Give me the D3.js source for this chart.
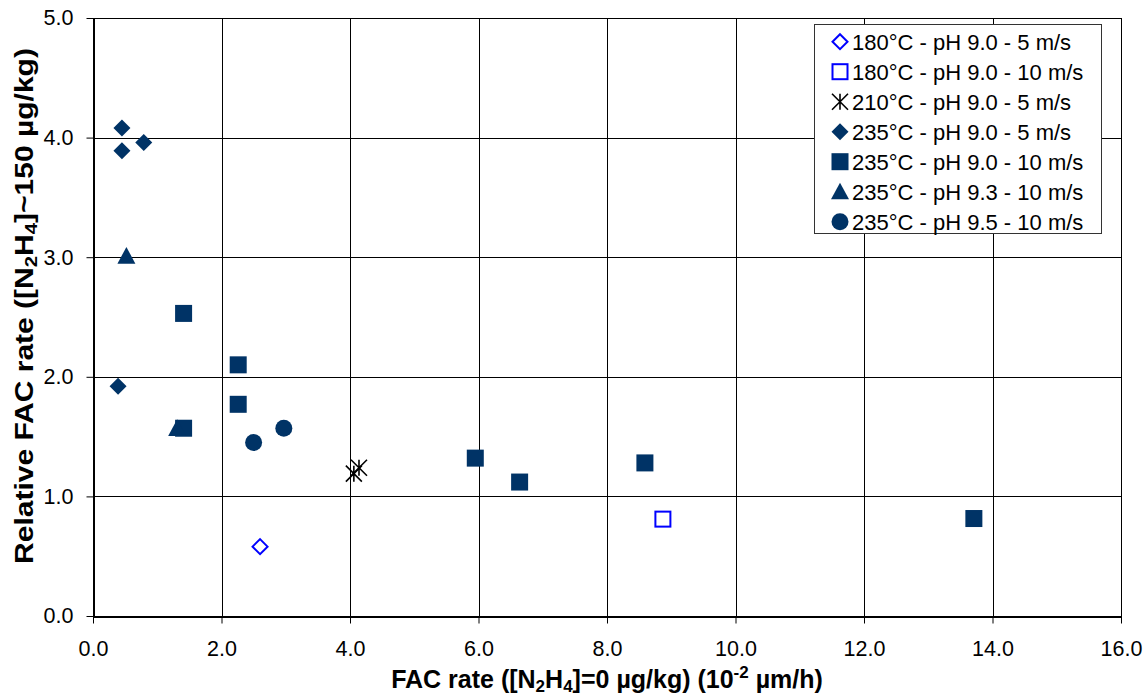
<!DOCTYPE html>
<html>
<head>
<meta charset="utf-8">
<script src="https://cdn.jsdelivr.net/npm/d3@7"></script>
<style>
  html, body { margin: 0; padding: 0; background: #fff; }
  svg { display: block; font-family: "Liberation Sans", Arial, sans-serif; }
</style>
</head>
<body>
<svg id="chart" width="1145" height="696"></svg>
<script>
// Series labels (legend order)
const seriesLabels = [
  "180°C - pH 9.0 - 5 m/s",
  "180°C - pH 9.0 - 10 m/s",
  "210°C - pH 9.0 - 5 m/s",
  "235°C - pH 9.0 - 5 m/s",
  "235°C - pH 9.0 - 10 m/s",
  "235°C - pH 9.3 - 10 m/s",
  "235°C - pH 9.5 - 10 m/s"
];

// FAC rate without hydrazine (x) and relative FAC rate (y) per series
const x180pH90v5 = [2.60];
const y180pH90v5 = [0.58];

const x180pH90v10 = [8.87];
const y180pH90v10 = [0.81];

const x210pH90v5 = [4.06, 4.14];
const y210pH90v5 = [1.19, 1.24];

const x235pH90v5 = [0.45, 0.45, 0.79, 0.39];
const y235pH90v5 = [4.08, 3.89, 3.96, 1.92];

const x235pH90v10 = [1.41, 2.26, 2.26, 1.41, 5.95, 6.64, 8.59, 13.71];
const y235pH90v10 = [2.53, 2.10, 1.77, 1.57, 1.32, 1.12, 1.28, 0.815];

const x235pH93v10 = [0.52, 1.31];
const y235pH93v10 = [3.01, 1.57];

const x235pH95v10 = [2.50, 2.97];
const y235pH95v10 = [1.45, 1.57];

// Axis ticks
const xTicks = [0, 2, 4, 6, 8, 10, 12, 14, 16];
const yTicks = [0, 1, 2, 3, 4, 5];

const navy = "#003366";
const blue = "#0000ff";

const series = [
  { label: seriesLabels[0], xs: x180pH90v5,  ys: y180pH90v5,  shape: "diamond", fill: "none", stroke: blue },
  { label: seriesLabels[1], xs: x180pH90v10, ys: y180pH90v10, shape: "square",  fill: "none", stroke: blue },
  { label: seriesLabels[2], xs: x210pH90v5,  ys: y210pH90v5,  shape: "star",    fill: "none", stroke: "#000" },
  { label: seriesLabels[3], xs: x235pH90v5,  ys: y235pH90v5,  shape: "diamond", fill: navy, stroke: "none" },
  { label: seriesLabels[4], xs: x235pH90v10, ys: y235pH90v10, shape: "square",  fill: navy, stroke: "none" },
  { label: seriesLabels[5], xs: x235pH93v10, ys: y235pH93v10, shape: "triangle",fill: navy, stroke: "none" },
  { label: seriesLabels[6], xs: x235pH95v10, ys: y235pH95v10, shape: "circle",  fill: navy, stroke: "none" }
];

const svg = d3.select("#chart");
const plot = { left: 93, right: 1121, top: 18, bottom: 616 };

const x = d3.scaleLinear().domain([0, 16]).range([plot.left, plot.right]);
const y = d3.scaleLinear().domain([0, 5]).range([plot.bottom, plot.top]);

// Gridlines
const grid = svg.append("g").attr("stroke", "#000").attr("stroke-width", 1);
xTicks.slice(1, -1).forEach(t => {
  grid.append("line")
    .attr("x1", Math.round(x(t)) + 0.5).attr("x2", Math.round(x(t)) + 0.5)
    .attr("y1", plot.top).attr("y2", plot.bottom);
});
yTicks.slice(1, -1).forEach(t => {
  grid.append("line")
    .attr("x1", plot.left).attr("x2", plot.right)
    .attr("y1", Math.round(y(t)) + 0.5).attr("y2", Math.round(y(t)) + 0.5);
});

// Plot frame
svg.append("rect")
  .attr("x", plot.left + 0.5).attr("y", plot.top + 0.5)
  .attr("width", plot.right - plot.left).attr("height", plot.bottom - plot.top)
  .attr("fill", "none").attr("stroke", "#000").attr("stroke-width", 1);

// Axes
const xAxis = d3.axisBottom(x).tickValues(xTicks).tickFormat(d3.format(".1f"))
  .tickSizeInner(7).tickSizeOuter(0).tickPadding(17);
const yAxis = d3.axisLeft(y).tickValues(yTicks).tickFormat(d3.format(".1f"))
  .tickSizeInner(7).tickSizeOuter(0).tickPadding(13);

const gx = svg.append("g").attr("transform", `translate(0,${plot.bottom + 0.5})`).call(xAxis);
const gy = svg.append("g").attr("transform", `translate(${plot.left + 0.5},0)`).call(yAxis);
[gx, gy].forEach(g => {
  g.select(".domain").attr("stroke", "#000").attr("stroke-width", 2);
  g.selectAll(".tick line").attr("stroke", "#000");
  g.selectAll(".tick text")
    .attr("fill", "#000")
    .style("font-family", "'Liberation Sans', Arial, sans-serif")
    .style("font-size", "21.5px");
});

// Marker shapes
function drawMarker(g, shape, cx, cy, fill, stroke) {
  if (shape === "diamond") {
    const r = fill === "none" ? 7.5 : 8.5;
    g.append("path")
      .attr("d", `M${cx},${cy - r}L${cx + r},${cy}L${cx},${cy + r}L${cx - r},${cy}Z`)
      .attr("fill", fill).attr("stroke", stroke).attr("stroke-width", 2);
  } else if (shape === "square") {
    const h = fill === "none" ? 7.5 : 8.5;
    g.append("rect")
      .attr("x", cx - h).attr("y", cy - h).attr("width", 2 * h).attr("height", 2 * h)
      .attr("fill", fill).attr("stroke", stroke).attr("stroke-width", 2);
  } else if (shape === "triangle") {
    const h = 9;
    g.append("path")
      .attr("d", `M${cx},${cy - h}L${cx + h},${cy + h * 0.85}L${cx - h},${cy + h * 0.85}Z`)
      .attr("fill", fill);
  } else if (shape === "circle") {
    g.append("circle").attr("cx", cx).attr("cy", cy).attr("r", 8.5).attr("fill", fill);
  } else if (shape === "star") {
    const r = 8;
    g.append("path")
      .attr("d", `M${cx - r},${cy - r}L${cx + r},${cy + r}M${cx - r},${cy + r}L${cx + r},${cy - r}M${cx},${cy - r}L${cx},${cy + r}`)
      .attr("fill", "none").attr("stroke", stroke).attr("stroke-width", 1.6);
  }
}

// Data points
const marks = svg.append("g");
series.forEach(s => {
  s.xs.forEach((xv, i) => {
    drawMarker(marks, s.shape, x(xv), y(s.ys[i]), s.fill, s.stroke);
  });
});

// Legend
const legend = svg.append("g");
legend.append("rect")
  .attr("x", 814.5).attr("y", 24.5).attr("width", 287).attr("height", 209)
  .attr("fill", "#fff").attr("stroke", "#333").attr("stroke-width", 1);
series.forEach((s, i) => {
  const cy = 41.7 + i * 30;
  const lg = legend.append("g");
  drawMarker(lg, s.shape, 840, cy, s.fill, s.stroke);
  legend.append("text")
    .attr("x", 852).attr("y", cy + 7.8)
    .style("font-size", "22px").attr("fill", "#000")
    .text(s.label);
});

// Axis titles
const xt = svg.append("text")
  .attr("x", 607).attr("y", 688)
  .attr("text-anchor", "middle")
  .style("font-size", "25px").style("font-weight", "bold");
xt.append("tspan").text("FAC rate ([N");
xt.append("tspan").attr("baseline-shift", "-22%").style("font-size", "17px").text("2");
xt.append("tspan").text("H");
xt.append("tspan").attr("baseline-shift", "-22%").style("font-size", "17px").text("4");
xt.append("tspan").text("]=0 µg/kg) (10");
xt.append("tspan").attr("baseline-shift", "60%").style("font-size", "17px").text("-2");
xt.append("tspan").text(" µm/h)");

// Vertical title, slightly elongated along its reading direction
const yt = svg.append("text")
  .attr("transform", "translate(33,306) rotate(-90) scale(1.2,1)")
  .attr("text-anchor", "middle")
  .style("font-size", "25px").style("font-weight", "bold");
yt.append("tspan").text("Relative FAC rate ([N");
yt.append("tspan").attr("baseline-shift", "-22%").style("font-size", "17px").text("2");
yt.append("tspan").text("H");
yt.append("tspan").attr("baseline-shift", "-22%").style("font-size", "17px").text("4");
yt.append("tspan").text("]~150 µg/kg)");
</script>
</body>
</html>
